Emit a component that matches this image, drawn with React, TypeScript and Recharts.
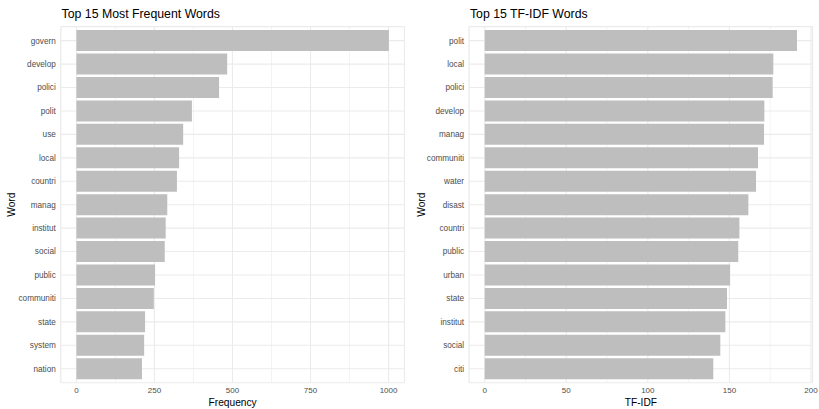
import React from 'react';
import { BarChart, Bar, XAxis, YAxis, CartesianGrid } from 'recharts';

// ---- Data ----
const freqWords = ['govern', 'develop', 'polici', 'polit', 'use', 'local', 'countri', 'manag', 'institut', 'social', 'public', 'communiti', 'state', 'system', 'nation'];
const freqValues = [1001, 483, 457, 370, 342, 329, 322, 291, 286, 283, 252, 248, 220, 217, 210];
const freqTicks = [0, 250, 500, 750, 1000];
const freqMinorTicks = [125, 375, 625, 875];

const tfidfWords = ['polit', 'local', 'polici', 'develop', 'manag', 'communiti', 'water', 'disast', 'countri', 'public', 'urban', 'state', 'institut', 'social', 'citi'];
const tfidfValues = [191.4, 176.9, 176.5, 171.4, 171.2, 167.5, 166.3, 161.6, 156.1, 155.4, 150.4, 148.5, 147.5, 144.4, 140.1];
const tfidfTicks = [0, 50, 100, 150, 200];
const tfidfMinorTicks = [25, 75, 125, 175];

const toRows = (words: string[], values: number[]) => words.map((w, i) => ({ word: w, value: values[i] }));

// expand continuous range by 5% on each side (ggplot default)
const expandDomain = (values: number[]): [number, number] => {
  const max = Math.max(...values);
  const min = 0;
  const pad = (max - min) * 0.05;
  return [min - pad, max + pad];
};

const H = 409;
const PLOT_TOP = 26.6;
const PLOT_BOTTOM = 382.8;
const X_AXIS_H = H - PLOT_BOTTOM;
const STEP = (PLOT_BOTTOM - PLOT_TOP) / 15.2;
const Y_PAD = STEP * 0.1;

const GRID = '#EBEBEB';
const TICK = '#4D4D4D';
const BAR = '#BEBEBE';

type PanelProps = {
  left: number;
  width: number;
  yAxisWidth: number;
  marginRight: number;
  words: string[];
  values: number[];
  ticks: number[];
  minor: number[];
  title: string;
  xLabel: string;
};

function Panel(p: PanelProps) {
  const data = toRows(p.words, p.values);
  const domain = expandDomain(p.values);
  const plotLeft = p.yAxisWidth;
  const plotRight = p.width - p.marginRight;
  return (
    <div style={{ position: 'absolute', left: p.left, top: 0, width: p.width, height: H }}>
      <BarChart
        width={p.width}
        height={H}
        data={data}
        layout="vertical"
        margin={{ top: PLOT_TOP, right: p.marginRight, bottom: 0, left: 0 }}
        barCategoryGap="5%"
      >
        <CartesianGrid xAxisId="minor" stroke={GRID} strokeWidth={0.6} horizontal={false} vertical />
        <CartesianGrid xAxisId="major" stroke={GRID} strokeWidth={1.1} horizontal vertical />
        <XAxis
          xAxisId="minor"
          type="number"
          dataKey="value"
          domain={domain}
          ticks={p.minor}
          allowDataOverflow
          interval={0}
          hide
        />
        <XAxis
          xAxisId="major"
          type="number"
          dataKey="value"
          domain={domain}
          ticks={p.ticks}
          allowDataOverflow
          interval={0}
          tickLine={false}
          axisLine={false}
          tickSize={3}
          tickMargin={2}
          height={X_AXIS_H}
          tick={{ fontSize: 8, fill: TICK }}
        />
        <YAxis
          type="category"
          dataKey="word"
          width={p.yAxisWidth}
          interval={0}
          tickLine={false}
          axisLine={false}
          tickSize={3}
          tickMargin={2}
          padding={{ top: Y_PAD, bottom: Y_PAD }}
          tick={{ fontSize: 8.2, fill: TICK }}
        />
        <Bar xAxisId="major" dataKey="value" fill={BAR} isAnimationActive={false} />
      </BarChart>
      <svg
        width={p.width}
        height={H}
        style={{ position: 'absolute', left: 0, top: 0, pointerEvents: 'none' }}
      >
        <text x={plotLeft + 0.8} y={18.3} fontSize={12.3} fill="#000">
          {p.title}
        </text>
        <text
          x={15.5}
          y={(PLOT_TOP + PLOT_BOTTOM) / 2}
          fontSize={10.2}
          fill="#000"
          textAnchor="middle"
          transform={`rotate(-90, 15.5, ${(PLOT_TOP + PLOT_BOTTOM) / 2})`}
        >
          Word
        </text>
        <text x={(plotLeft + plotRight) / 2} y={405.5} fontSize={10.2} fill="#000" textAnchor="middle">
          {p.xLabel}
        </text>
      </svg>
    </div>
  );
}

export default function App() {
  return (
    <div
      style={{
        position: 'absolute',
        left: 0,
        top: 0,
        width: 819,
        height: H,
        background: '#fff',
        fontFamily: '"Liberation Sans", Arial, Helvetica, sans-serif',
        overflow: 'hidden',
      }}
    >
      <Panel
        left={0}
        width={410}
        yAxisWidth={60.8}
        marginRight={5.5}
        words={freqWords}
        values={freqValues}
        ticks={freqTicks}
        minor={freqMinorTicks}
        title="Top 15 Most Frequent Words"
        xLabel="Frequency"
      />
      <Panel
        left={410}
        width={409}
        yAxisWidth={59.1}
        marginRight={6.4}
        words={tfidfWords}
        values={tfidfValues}
        ticks={tfidfTicks}
        minor={tfidfMinorTicks}
        title="Top 15 TF-IDF Words"
        xLabel="TF-IDF"
      />
    </div>
  );
}
